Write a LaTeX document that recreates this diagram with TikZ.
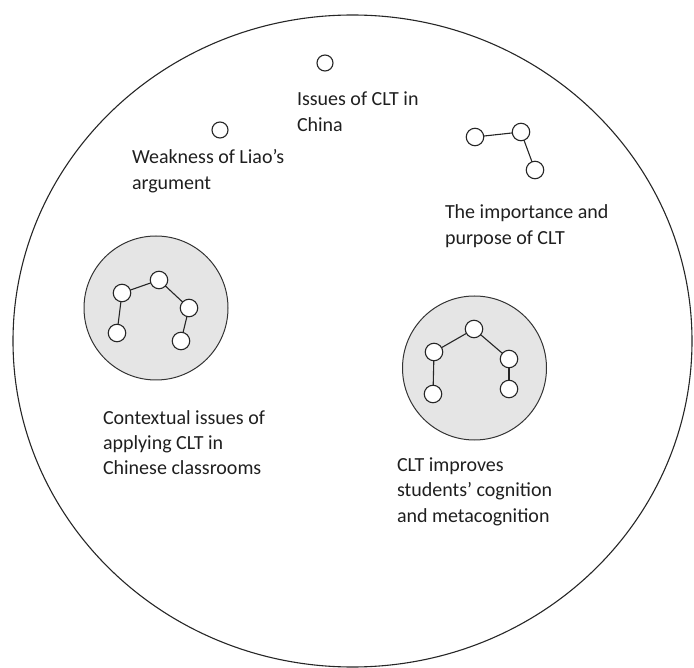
\documentclass[tikz,border=0pt]{standalone}
\usepackage{fontspec}
\setmainfont{Carlito}
\begin{document}
\begin{tikzpicture}[x=1pt,y=-1pt,
  every node/.style={inner sep=0pt, outer sep=0pt},
  dot/.style={circle, draw=black!85, fill=white, line width=1.1pt, minimum size=17.5pt},
  cluster/.style={circle, draw=black!80, fill=black!10, line width=1pt, minimum size=144pt},
  link/.style={draw=black!85, line width=1.1pt},
  lbl/.style={anchor=north west, align=left, font=\fontsize{20}{25.5}\selectfont, text=black!88}]
\useasboundingbox (0,0) rectangle (694,668);

% outer boundary
\draw[black!85, line width=1.1pt] (352.5,341) ellipse [x radius=339.5pt, y radius=326pt];

% single topics
\node[dot, minimum size=16pt] (issues) at (325,63) {};
\node[dot, minimum size=16pt] (weak) at (220,130) {};

% three-topic chain
\node[dot] (c1) at (475,137) {};
\node[dot] (c2) at (521,132) {};
\node[dot] (c3) at (535,170) {};
\draw[link] (c1) -- (c2);
\draw[link] (c2) -- (c3);

% left cluster
\node[cluster] (gl) at (156,308) {};
\node[dot] (l1) at (122,293) {};
\node[dot] (l2) at (159,280) {};
\node[dot] (l3) at (189,308) {};
\node[dot] (l4) at (117,333) {};
\node[dot] (l5) at (181,341) {};
\draw[link] (l1) -- (l2);
\draw[link] (l2) -- (l3);
\draw[link] (l1) -- (l4);
\draw[link] (l3) -- (l5);

% right cluster
\node[cluster] (gr) at (474.5,368) {};
\node[dot] (r1) at (434,352) {};
\node[dot] (r2) at (474,329) {};
\node[dot] (r3) at (509,359) {};
\node[dot] (r4) at (433,394) {};
\node[dot] (r5) at (509,389) {};
\draw[link] (r1) -- (r2);
\draw[link] (r2) -- (r3);
\draw[link] (r1) -- (r4);
\draw[link] (r3) -- (r5);

% labels
\node[lbl] (tissues) at (297,106-17.85) {\strut Issues of CLT in\\China};
\node[lbl] (tweak) at (132,164-17.85) {\strut Weakness of Liao’s\\argument};
\node[lbl] (tchain) at (445,219-17.85) {\strut The importance and\\purpose of CLT};
\node[lbl] (tleft) at (103,424-17.85) {\strut Contextual issues of\\applying CLT in\\Chinese classrooms};
\node[lbl] (tright) at (397,471-17.85) {\strut CLT improves\\students’ cognition\\and metacognition};
\end{tikzpicture}
\end{document}
